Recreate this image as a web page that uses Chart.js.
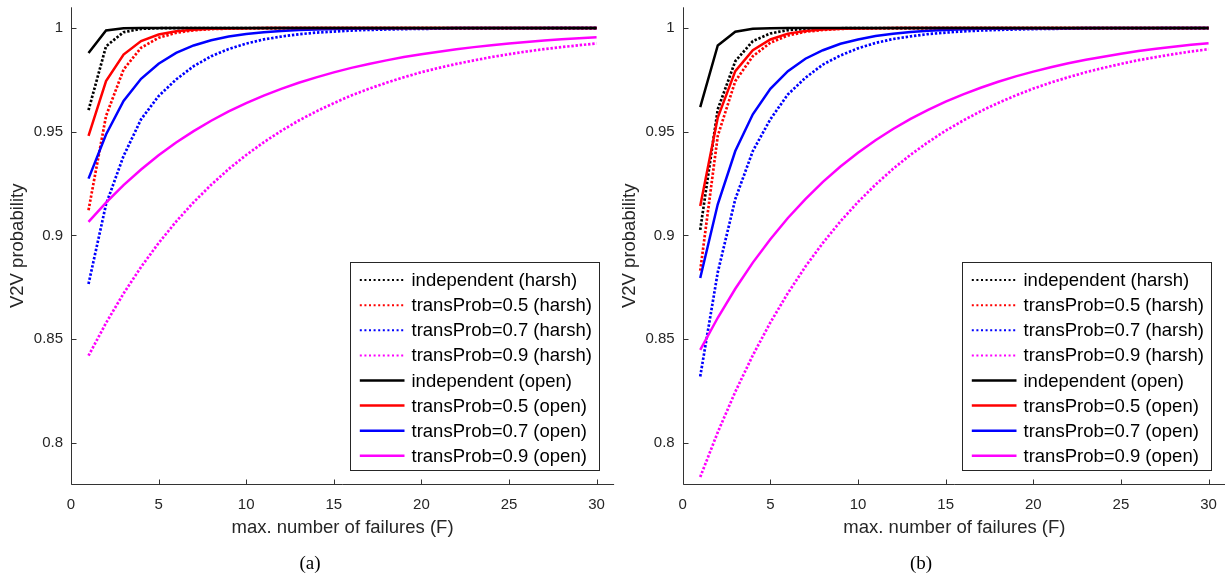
<!DOCTYPE html>
<html>
<head>
<meta charset="utf-8">
<script src="https://cdn.jsdelivr.net/npm/chart.js@4.4.0/dist/chart.umd.min.js"></script>
<style>
  html, body { margin: 0; padding: 0; background: #fff; overflow: hidden; }
  #page { position: relative; width: 1225px; height: 573px; }
  canvas { position: absolute; top: 0; }
  #chartA { left: 0; }
  #chartB { left: 615px; }
  .sub {
    position: absolute; top: 552px; width: 60px; margin-left: -30px;
    text-align: center; color: #000;
    font-family: "Liberation Serif", "Times New Roman", serif;
    font-size: 19px; line-height: 22px;
  }
</style>
</head>
<body>
<div id="page">
  <canvas id="chartA" width="615" height="573"></canvas>
  <canvas id="chartB" width="615" height="573"></canvas>
  <div class="sub" style="left:310px">(a)</div>
  <div class="sub" style="left:921px">(b)</div>
</div>
<script>
const failures = [1, 2, 3, 4, 5, 6, 7, 8, 9, 10, 11, 12, 13, 14, 15, 16, 17, 18, 19, 20, 21, 22, 23, 24, 25, 26, 27, 28, 29, 30];

const xTicks = [0, 5, 10, 15, 20, 25, 30];
const xTickLabels = ['0', '5', '10', '15', '20', '25', '30'];
const yTicks = [0.8, 0.85, 0.9, 0.95, 1];
const yTickLabels = ['0.8', '0.85', '0.9', '0.95', '1'];

const seriesLabels = [
  'independent (harsh)', 'transProb=0.5 (harsh)', 'transProb=0.7 (harsh)', 'transProb=0.9 (harsh)',
  'independent (open)', 'transProb=0.5 (open)', 'transProb=0.7 (open)', 'transProb=0.9 (open)'
];
const seriesColors = ['#000000', '#ff0000', '#0000ff', '#ff00ff', '#000000', '#ff0000', '#0000ff', '#ff00ff'];

// panel (a)
const harshIndepA = [0.9604, 0.9912, 0.9980, 0.9996, 0.9999, 1, 1, 1, 1, 1, 1, 1, 1, 1, 1, 1, 1, 1, 1, 1, 1, 1, 1, 1, 1, 1, 1, 1, 1, 1];
const harsh05A = [0.9122, 0.9576, 0.9800, 0.9905, 0.9953, 0.9977, 0.9989, 0.9995, 0.9997, 0.9999, 0.9999, 1, 1, 1, 1, 1, 1, 1, 1, 1, 1, 1, 1, 1, 1, 1, 1, 1, 1, 1];
const harsh07A = [0.8766, 0.9150, 0.9383, 0.9560, 0.9672, 0.9752, 0.9816, 0.9864, 0.9899, 0.9925, 0.9945, 0.9959, 0.9970, 0.9978, 0.9983, 0.9988, 0.9991, 0.9993, 0.9995, 0.9996, 0.9997, 0.9998, 0.9998, 0.9999, 0.9999, 0.9999, 0.9999, 1, 1, 1];
const harsh09A = [0.8420, 0.8578, 0.8720, 0.8848, 0.8963, 0.9067, 0.9160, 0.9244, 0.9320, 0.9388, 0.9449, 0.9504, 0.9554, 0.9598, 0.9638, 0.9675, 0.9707, 0.9736, 0.9763, 0.9787, 0.9808, 0.9827, 0.9844, 0.9860, 0.9874, 0.9887, 0.9898, 0.9908, 0.9917, 0.9926];
const openIndepA = [0.9880, 0.9988, 0.9999, 1, 1, 1, 1, 1, 1, 1, 1, 1, 1, 1, 1, 1, 1, 1, 1, 1, 1, 1, 1, 1, 1, 1, 1, 1, 1, 1];
const open05A = [0.9480, 0.9744, 0.9872, 0.9937, 0.9969, 0.9985, 0.9992, 0.9996, 0.9998, 0.9999, 1, 1, 1, 1, 1, 1, 1, 1, 1, 1, 1, 1, 1, 1, 1, 1, 1, 1, 1, 1];
const open07A = [0.9274, 0.9487, 0.9648, 0.9755, 0.9828, 0.9880, 0.9916, 0.9941, 0.9959, 0.9971, 0.9980, 0.9986, 0.9990, 0.9993, 0.9995, 0.9997, 0.9998, 0.9998, 0.9999, 0.9999, 0.9999, 1, 1, 1, 1, 1, 1, 1, 1, 1];
const open09A = [0.9065, 0.9158, 0.9243, 0.9318, 0.9387, 0.9448, 0.9503, 0.9553, 0.9598, 0.9638, 0.9674, 0.9707, 0.9736, 0.9762, 0.9786, 0.9808, 0.9827, 0.9844, 0.9860, 0.9874, 0.9886, 0.9898, 0.9908, 0.9917, 0.9925, 0.9933, 0.9940, 0.9946, 0.9951, 0.9956];

// panel (b)
const harshIndepB = [0.9027, 0.9608, 0.9840, 0.9937, 0.9974, 0.9990, 0.9996, 0.9998, 0.9999, 1, 1, 1, 1, 1, 1, 1, 1, 1, 1, 1, 1, 1, 1, 1, 1, 1, 1, 1, 1, 1];
const harsh05B = [0.8830, 0.9480, 0.9744, 0.9864, 0.9929, 0.9964, 0.9982, 0.9991, 0.9996, 0.9998, 0.9999, 0.9999, 1, 1, 1, 1, 1, 1, 1, 1, 1, 1, 1, 1, 1, 1, 1, 1, 1, 1];
const harsh07B = [0.8320, 0.8822, 0.9175, 0.9407, 0.9560, 0.9680, 0.9760, 0.9824, 0.9868, 0.9902, 0.9928, 0.9947, 0.9960, 0.9971, 0.9978, 0.9984, 0.9988, 0.9991, 0.9993, 0.9995, 0.9996, 0.9997, 0.9998, 0.9999, 0.9999, 0.9999, 0.9999, 1, 1, 1];
const harsh09B = [0.7835, 0.8051, 0.8246, 0.8422, 0.8580, 0.8722, 0.8850, 0.8964, 0.9068, 0.9161, 0.9245, 0.9321, 0.9389, 0.9450, 0.9505, 0.9554, 0.9599, 0.9639, 0.9675, 0.9708, 0.9737, 0.9763, 0.9787, 0.9808, 0.9827, 0.9845, 0.9860, 0.9874, 0.9887, 0.9898];
const openIndepB = [0.9619, 0.9916, 0.9982, 0.9996, 0.9999, 1, 1, 1, 1, 1, 1, 1, 1, 1, 1, 1, 1, 1, 1, 1, 1, 1, 1, 1, 1, 1, 1, 1, 1, 1];
const open05B = [0.9142, 0.9568, 0.9792, 0.9893, 0.9945, 0.9973, 0.9986, 0.9993, 0.9997, 0.9998, 0.9999, 1, 1, 1, 1, 1, 1, 1, 1, 1, 1, 1, 1, 1, 1, 1, 1, 1, 1, 1];
const open07B = [0.8795, 0.9150, 0.9407, 0.9584, 0.9707, 0.9792, 0.9852, 0.9893, 0.9924, 0.9945, 0.9962, 0.9973, 0.9981, 0.9987, 0.9991, 0.9994, 0.9996, 0.9997, 0.9998, 0.9999, 0.9999, 0.9999, 1, 1, 1, 1, 1, 1, 1, 1];
const open09B = [0.8448, 0.8603, 0.8743, 0.8869, 0.8982, 0.9084, 0.9175, 0.9258, 0.9332, 0.9399, 0.9459, 0.9513, 0.9562, 0.9605, 0.9645, 0.9680, 0.9712, 0.9741, 0.9767, 0.9790, 0.9811, 0.9830, 0.9847, 0.9862, 0.9876, 0.9889, 0.9900, 0.9910, 0.9919, 0.9927];

const FONT = '"Liberation Sans", Helvetica, Arial, sans-serif';
const AXIS_COLOR = '#262626';

// MATLAB style axes: left + bottom line, ticks pointing inward
const axesPlugin = {
  id: 'matlabAxes',
  afterDraw(chart) {
    const { ctx, chartArea: a, scales: { x, y } } = chart;
    const left = Math.round(a.left) + 0.5;
    const bottom = Math.round(a.bottom) + 0.5;
    ctx.save();
    ctx.strokeStyle = '#333';
    ctx.lineWidth = 1;
    ctx.beginPath();
    ctx.moveTo(left, a.top);
    ctx.lineTo(left, bottom);
    ctx.lineTo(a.right, bottom);
    xTicks.forEach(v => {
      const px = Math.round(x.getPixelForValue(v)) + 0.5;
      ctx.moveTo(px, bottom);
      ctx.lineTo(px, bottom - 5);
    });
    yTicks.forEach(v => {
      const py = Math.round(y.getPixelForValue(v)) + 0.5;
      ctx.moveTo(left, py);
      ctx.lineTo(left + 5, py);
    });
    ctx.stroke();
    ctx.restore();
  }
};

const legendPlugin = {
  id: 'boxLegend',
  afterDraw(chart) {
    const { ctx, chartArea: a } = chart;
    const w = 248.6, h = 208.3;
    const left = Math.round(a.right - 15.5 - w) + 0.5;
    const top = Math.round(a.bottom - 14.3 - h) + 0.5;
    ctx.save();
    ctx.fillStyle = '#fff';
    ctx.fillRect(left, top, w, h);
    ctx.strokeStyle = '#262626';
    ctx.lineWidth = 1;
    ctx.strokeRect(left, top, Math.round(w), Math.round(h));
    ctx.font = '18.5px ' + FONT;
    ctx.textBaseline = 'middle';
    seriesLabels.forEach((label, i) => {
      const yy = top + 17.6 + i * 25.1;
      ctx.strokeStyle = seriesColors[i];
      ctx.lineWidth = i < 4 ? 2 : 2.5;
      ctx.setLineDash(i < 4 ? [2, 2.6] : []);
      ctx.beginPath();
      ctx.moveTo(left + 9.3, yy);
      ctx.lineTo(left + 54, yy);
      ctx.stroke();
      ctx.setLineDash([]);
      ctx.fillStyle = '#000';
      ctx.fillText(label, left + 61, yy + 1);
    });
    ctx.restore();
  }
};

function makeChart(canvasId, seriesData, axisWidth, rightPad, yTitlePad) {
  const datasets = seriesData.map((vals, i) => ({
    label: seriesLabels[i],
    data: failures.map((f, j) => ({ x: f, y: vals[j] })),
    borderColor: seriesColors[i],
    borderWidth: i < 4 ? 2.7 : 2.5,
    borderDash: i < 4 ? [2.4, 1.8] : [],
    pointRadius: 0,
    tension: 0,
    fill: false,
    order: i < 4 ? 1 : 0
  }));

  return new Chart(document.getElementById(canvasId), {
    type: 'line',
    data: { datasets },
    options: {
      responsive: false,
      animation: false,
      devicePixelRatio: 1,
      layout: { padding: { top: 7.3, right: rightPad, bottom: 0, left: 0 } },
      plugins: { legend: { display: false }, tooltip: { enabled: false } },
      scales: {
        x: {
          type: 'linear',
          min: 0,
          max: 31,
          grid: { display: false, drawTicks: false },
          border: { display: false },
          afterBuildTicks: s => { s.ticks = xTicks.map(v => ({ value: v })); },
          afterFit: s => {
            s.height = 88.7;
            s.paddingLeft = 0;
            s.paddingRight = 0;
          },
          ticks: {
            padding: 12, color: AXIS_COLOR, autoSkip: false, maxRotation: 0,
            font: { family: FONT, size: 15 },
            callback: (v, i) => xTickLabels[i]
          },
          title: {
            display: true, text: 'max. number of failures (F)', color: AXIS_COLOR,
            font: { family: FONT, size: 18.5 }, padding: { top: 0, bottom: 34 }
          }
        },
        y: {
          type: 'linear',
          min: 0.78,
          max: 1.01,
          grid: { display: false, drawTicks: false },
          border: { display: false },
          afterBuildTicks: s => { s.ticks = yTicks.map(v => ({ value: v })); },
          afterFit: s => {
            s.width = axisWidth;
            s.paddingTop = 0;
            s.paddingBottom = 0;
          },
          ticks: {
            padding: 8, color: AXIS_COLOR, autoSkip: false,
            font: { family: FONT, size: 15 },
            callback: (v, i) => yTickLabels[i]
          },
          title: {
            display: true, text: 'V2V probability', color: AXIS_COLOR,
            font: { family: FONT, size: 18.5 }, padding: { top: yTitlePad, bottom: 0 }
          }
        }
      }
    },
    plugins: [axesPlugin, legendPlugin]
  });
}

makeChart('chartA',
  [harshIndepA, harsh05A, harsh07A, harsh09A, openIndepA, open05A, open07A, open09A],
  71, 0.9, 7.2);
makeChart('chartB',
  [harshIndepB, harsh05B, harsh07B, harsh09B, openIndepB, open05B, open07B, open09B],
  67.7, 3.9, 3.9);
</script>
</body>
</html>
